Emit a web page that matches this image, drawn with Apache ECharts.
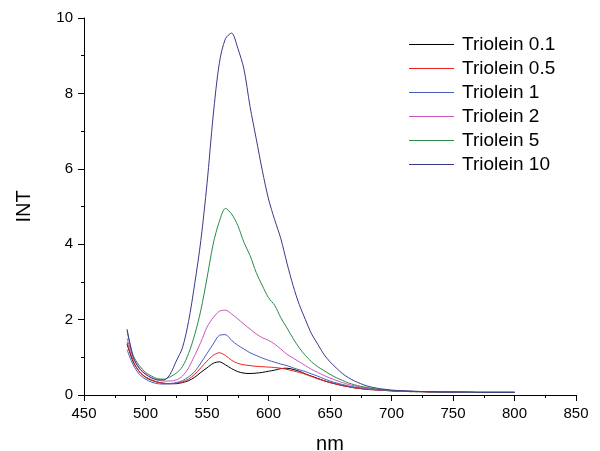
<!DOCTYPE html>
<html>
<head>
<meta charset="utf-8">
<script src="https://cdn.jsdelivr.net/npm/echarts@6/dist/echarts.min.js"></script>
<style>html,body{margin:0;padding:0;background:#fff}#c{width:600px;height:451px}</style>
</head>
<body>
<div id="c"></div>
<script>
const wavelengths = [485,490,495,500,505,510,515,520,525,530,535,540,545,550,555,560,565,570,575,580,585,590,595,600,605,610,615,620,625,630,635,640,645,650,655,660,665,670,675,680,685,690,695,700,705,710,715,720,725,730,735,740,745,750,755,760,765,770,775,780,785,790,795,800];
const seriesNames = ['Triolein 0.1','Triolein 0.5','Triolein 1','Triolein 2','Triolein 5','Triolein 10'];
const tri01 = [1.35,0.88,0.62,0.47,0.39,0.34,0.31,0.30,0.30,0.33,0.38,0.47,0.60,0.72,0.84,0.88,0.80,0.70,0.62,0.58,0.57,0.58,0.60,0.63,0.66,0.70,0.71,0.68,0.63,0.56,0.50,0.44,0.38,0.33,0.29,0.25,0.22,0.19,0.17,0.15,0.14,0.13,0.12,0.11,0.10,0.10,0.09,0.09,0.09,0.08,0.08,0.08,0.08,0.07,0.07,0.07,0.07,0.07,0.07,0.07,0.07,0.07,0.07,0.07];
const tri05 = [1.40,0.90,0.62,0.48,0.40,0.34,0.31,0.30,0.31,0.35,0.42,0.55,0.72,0.90,1.05,1.12,1.05,0.92,0.84,0.80,0.78,0.76,0.75,0.74,0.73,0.71,0.68,0.64,0.60,0.55,0.49,0.43,0.38,0.33,0.29,0.25,0.22,0.19,0.17,0.15,0.14,0.13,0.12,0.11,0.10,0.10,0.09,0.09,0.09,0.08,0.08,0.08,0.08,0.07,0.07,0.07,0.07,0.07,0.07,0.07,0.07,0.07,0.07,0.07];
const tri1 = [1.20,0.80,0.55,0.42,0.34,0.30,0.29,0.30,0.33,0.38,0.48,0.62,0.85,1.10,1.35,1.58,1.60,1.45,1.32,1.22,1.12,1.05,0.98,0.92,0.87,0.82,0.78,0.72,0.67,0.62,0.56,0.50,0.43,0.37,0.32,0.28,0.24,0.21,0.19,0.17,0.15,0.14,0.13,0.12,0.11,0.10,0.10,0.09,0.09,0.09,0.08,0.08,0.08,0.08,0.08,0.07,0.07,0.07,0.07,0.07,0.07,0.07,0.07,0.07];
const tri2 = [1.50,1.00,0.72,0.56,0.46,0.40,0.37,0.37,0.40,0.50,0.72,1.05,1.40,1.80,2.05,2.22,2.25,2.15,2.02,1.88,1.75,1.62,1.52,1.45,1.35,1.22,1.08,0.98,0.88,0.78,0.68,0.60,0.52,0.45,0.39,0.33,0.28,0.24,0.21,0.18,0.16,0.14,0.13,0.12,0.11,0.10,0.10,0.09,0.09,0.09,0.08,0.08,0.08,0.08,0.08,0.07,0.07,0.07,0.07,0.07,0.07,0.07,0.07,0.07];
const tri5 = [1.70,1.05,0.78,0.60,0.50,0.43,0.42,0.48,0.58,0.75,1.10,1.60,2.25,3.10,4.00,4.60,4.95,4.80,4.50,4.05,3.70,3.25,2.90,2.58,2.38,2.05,1.78,1.50,1.25,1.05,0.88,0.75,0.65,0.55,0.46,0.39,0.32,0.27,0.23,0.20,0.17,0.15,0.13,0.12,0.11,0.10,0.10,0.09,0.09,0.09,0.08,0.08,0.08,0.08,0.08,0.08,0.07,0.07,0.07,0.07,0.07,0.07,0.07,0.07];
const tri10 = [1.75,1.00,0.70,0.55,0.45,0.40,0.40,0.55,0.90,1.25,1.95,2.95,4.10,5.60,7.40,8.80,9.45,9.60,9.20,8.65,7.65,6.80,5.95,5.20,4.65,4.15,3.50,2.90,2.40,2.00,1.62,1.35,1.08,0.88,0.72,0.57,0.46,0.37,0.30,0.24,0.20,0.17,0.15,0.13,0.12,0.11,0.10,0.10,0.09,0.09,0.09,0.08,0.08,0.08,0.08,0.08,0.08,0.07,0.07,0.07,0.07,0.07,0.07,0.07];
const xTicks = [450,500,550,600,650,700,750,800,850];
const yTicks = [0,2,4,6,8,10];

const allValues = [tri01, tri05, tri1, tri2, tri5, tri10];
const colors = ['#000000','#ee2222','#4a5cc0','#cc55bb','#2a8a4a','#3a3a8a'];

const chart = echarts.init(document.getElementById('c'), null, {renderer:'canvas'});
const font = 'Liberation Sans, Arial, sans-serif';
chart.setOption({
  animation: false,
  backgroundColor: '#ffffff',
  grid: {left: 84, right: 24, top: 18, bottom: 56, containLabel: false, outerBoundsMode: 'none'},
  legend: {
    orient: 'vertical',
    left: 404,
    top: 30,
    icon: 'rect',
    itemWidth: 45,
    itemHeight: 1,
    itemGap: 5,
    data: seriesNames,
    textStyle: {fontFamily: font, fontSize: 19, color: '#000', padding: [0,0,0,3]}
  },
  xAxis: {
    type: 'value',
    min: xTicks[0], max: xTicks[xTicks.length-1], interval: 50,
    name: 'nm', nameLocation: 'middle', nameGap: 39,
    nameTextStyle: {fontFamily: font, fontSize: 20, color: '#000'},
    axisLine: {show: true, lineStyle: {color: '#000', width: 1}},
    axisTick: {show: true, length: 6, lineStyle: {color: '#000'}},
    minorTick: {show: true, splitNumber: 2, length: 3, lineStyle: {color: '#000'}},
    splitLine: {show: false},
    axisLabel: {fontFamily: font, fontSize: 15, color: '#000', margin: 11}
  },
  yAxis: {
    type: 'value',
    min: yTicks[0], max: yTicks[yTicks.length-1], interval: 2,
    name: 'INT', nameLocation: 'middle', nameGap: 50,
    nameTextStyle: {fontFamily: font, fontSize: 20, color: '#000'},
    axisLine: {show: true, lineStyle: {color: '#000', width: 1}},
    axisTick: {show: true, length: 6, lineStyle: {color: '#000'}},
    minorTick: {show: true, splitNumber: 2, length: 3, lineStyle: {color: '#000'}},
    splitLine: {show: false},
    axisLabel: {fontFamily: font, fontSize: 15, color: '#000', margin: 11}
  },
  series: seriesNames.map((n, i) => ({
    name: n,
    type: 'line',
    symbol: 'none',
    smooth: 0.3,
    color: colors[i],
    lineStyle: {width: 1, color: colors[i]},
    data: wavelengths.map((w, j) => [w, allValues[i][j]])
  }))
});
</script>
</body>
</html>
